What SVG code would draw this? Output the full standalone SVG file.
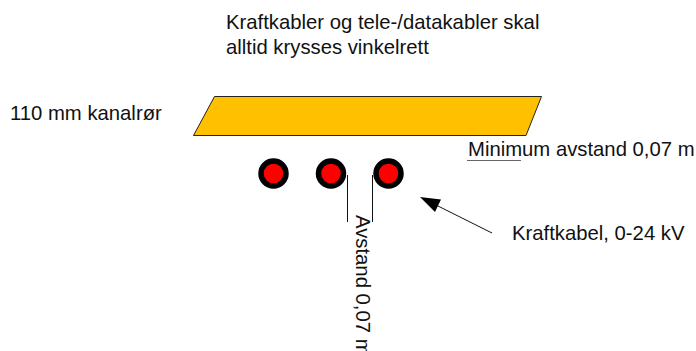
<svg xmlns="http://www.w3.org/2000/svg" width="696" height="351" viewBox="0 0 696 351">
<style>
text{font-family:"Liberation Sans",Arial,sans-serif;font-size:20.3px;fill:#111}
.c{fill:#f00;stroke:#000;stroke-width:5.5}
.l{stroke:#111;stroke-width:1;fill:none}
</style>
<rect width="696" height="351" fill="#fff"/>
<g id="title"><text x="226" y="29">Kraftkabler og tele-/datakabler skal</text><text x="226" y="54">alltid krysses vinkelrett</text></g>
<g id="kanalror-label"><text x="10" y="120">110 mm kanalrør</text></g>
<g id="kanalror"><path d="M214.500 96.500H541.500L526 135.500H193.500Z" fill="#ffc000" stroke="#222" stroke-width="1"/></g>
<g id="kabel1"><circle class="c" cx="273.500" cy="173.500" r="12.500"/></g>
<g id="kabel2"><circle class="c" cx="331" cy="173.500" r="12.500"/></g>
<g id="kabel3"><circle class="c" cx="388.500" cy="173.500" r="12.500"/></g>
<g id="connectors">
<path class="l" d="M347.500 175V222M372.500 175V222"/>
<path d="M467 160.500H521" stroke="#666" stroke-width="1" fill="none"/>
<path class="l" d="M492 233L436 205"/>
<path d="M420 197L441 199.500L435 212Z" fill="#000"/>
</g>
<g id="minimum-label"><text x="468" y="156">Minimum avstand 0,07 m</text></g>
<g id="kraftkabel-label"><text x="512" y="240">Kraftkabel, 0-24 kV</text></g>
<g id="avstand-label"><text transform="translate(356 215) rotate(90)">Avstand 0,07 m</text></g>
</svg>
